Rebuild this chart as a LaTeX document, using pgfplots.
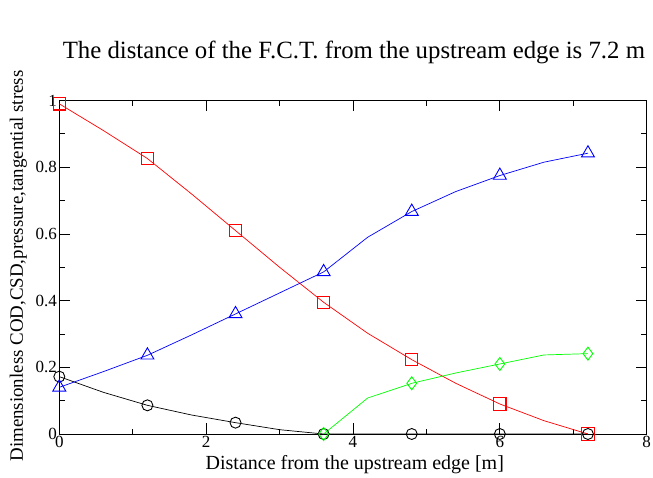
\documentclass[border=0pt]{standalone}
\usepackage{fontspec}
\setmainfont{Liberation Serif}
\usepackage{pgfplots}
\pgfplotsset{compat=1.18}

% red squares
\pgfplotstableread{
x y
0.0 0.99
0.6 0.91
1.2 0.826
1.8 0.72
2.4 0.61
3.0 0.50
3.6 0.395
4.2 0.302
4.8 0.223
5.4 0.152
6.0 0.09
6.6 0.04
7.2 0.0
}\redtab
% blue triangles
\pgfplotstableread{
x y
0.0 0.14
0.6 0.187
1.2 0.236
1.8 0.297
2.4 0.36
3.0 0.423
3.6 0.486
4.2 0.59
4.8 0.667
5.4 0.727
6.0 0.775
6.6 0.815
7.2 0.842
}\bluetab
% black circles
\pgfplotstableread{
x y
0.0 0.172
0.6 0.125
1.2 0.086
1.8 0.057
2.4 0.034
3.0 0.013
3.6 0.0
4.2 0.0
4.8 0.0
5.4 0.0
6.0 0.0
6.6 0.0
7.2 0.0
}\blacktab
% green diamonds
\pgfplotstableread{
x y
3.6 0.0
4.2 0.108
4.8 0.152
5.4 0.183
6.0 0.21
6.6 0.237
7.2 0.241
}\greentab

\begin{document}
\begin{tikzpicture}[x=1pt,y=1pt]
\fill[white] (-59.3,-43) rectangle (593.7,434);
\useasboundingbox (-59.3,-43) rectangle (593.7,434);
\begin{axis}[
    at={(0,0)}, anchor=south west,
    scale only axis, width=587.4pt, height=333.5pt,
    xmin=0, xmax=8, ymin=0, ymax=1,
    xtick={0,2,4,6,8}, minor x tick num=1,
    ytick={0,0.2,0.4,0.6,0.8,1}, minor y tick num=1,
    tick align=inside,
    major tick length=11pt, minor tick length=5.5pt,
    every tick/.style={black, line width=0.8pt},
    axis line style={line width=0.8pt},
    /pgf/number format/assume math mode=true,
    ticklabel style={font=\fontsize{17}{17}\selectfont},
    xticklabel style={yshift=1pt},
    yticklabel style={xshift=1pt},
    clip=false,
]
% lines
\addplot[black, line width=0.7pt] table {\blacktab};
\addplot[red, line width=0.7pt] table {\redtab};
\addplot[blue, line width=0.7pt] table {\bluetab};
\addplot[green, line width=0.7pt] table {\greentab};
% markers on every second point
\addplot[only marks, mark repeat=2, mark=o, mark size=5.5pt, mark options={draw=black, line width=0.9pt}] table {\blacktab};
\addplot[only marks, mark repeat=2, mark=square, mark size=6.2pt, mark options={draw=red, line width=1.1pt}] table {\redtab};
\addplot[only marks, mark repeat=2, mark=triangle, mark size=7.5pt, mark options={draw=blue, line width=0.9pt}] table {\bluetab};
\addplot[only marks, mark repeat=2, mark=diamond, mark size=6.5pt, mark options={draw=green, line width=0.9pt}] table {\greentab};
\end{axis}
\node[anchor=base, font=\fontsize{24.8}{24.8}\selectfont] at (294.6,375) {The distance of the F.C.T. from the upstream edge is 7.2 m};
\node[anchor=base, font=\fontsize{20}{20}\selectfont] at (295.5,-35) {Distance from the upstream edge [m]};
\node[anchor=base, rotate=90, font=\fontsize{18.9}{18.9}\selectfont] at (-36.3,168) {Dimensionless COD,CSD,pressure,tangential stress};
\end{tikzpicture}
\end{document}
